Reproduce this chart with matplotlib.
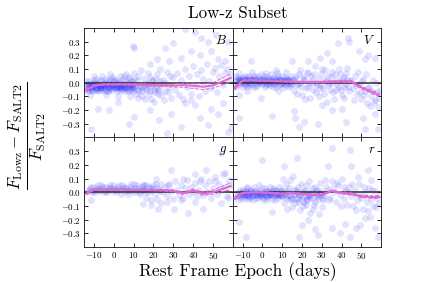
import numpy as np
import matplotlib
matplotlib.use("Agg")
import matplotlib.pyplot as plt

plt.rcParams["font.family"] = "serif"
plt.rcParams["font.serif"] = ["cmr10", "DejaVu Serif"]
plt.rcParams["mathtext.fontset"] = "cm"
plt.rcParams["axes.formatter.use_mathtext"] = True
plt.rcParams["axes.unicode_minus"] = True

# scatter points (epoch, fractional residual)
b_points = [
    (-14, -0.03), (-13, -0.01), (-12, -0.04), (-11, 0.00), (-10, -0.03), (-9, -0.05), (-8, -0.02),
    (-7, 0.01), (-6, -0.03), (-5, -0.04), (-4, -0.01), (-3, -0.03), (-2, 0.02), (-1, -0.02),
    (0, -0.04), (1, -0.01), (2, -0.03), (3, 0.00), (4, -0.05), (5, -0.02), (6, 0.01), (7, -0.03),
    (8, -0.01), (9, -0.04), (10, 0.02),
    (-13.5, -0.05), (-12.5, 0.01), (-11.5, -0.02), (-10.5, -0.06), (-9.5, 0.00), (-8.5, -0.03),
    (-7.5, -0.06), (-6.5, 0.02), (-5.5, -0.01), (-4.5, -0.06), (-3.5, 0.01), (-2.5, -0.05),
    (-1.5, -0.03), (-0.5, 0.03), (0.5, -0.02), (1.5, -0.06), (2.5, 0.01), (3.5, -0.03), (4.5, 0.03),
    (5.5, -0.06), (6.5, -0.02), (7.5, 0.04), (8.5, -0.05), (9.5, -0.01),
    (-14, 0.01), (-12, -0.02), (-10, 0.02), (-8, -0.04), (-6, -0.05), (-4, 0.03), (-2, -0.01),
    (0, 0.01), (2, -0.04), (4, -0.02), (6, -0.04), (8, 0.03), (10, -0.03), (-13, -0.06), (-11, -0.03),
    (-9, 0.03), (-7, -0.02), (-5, 0.00), (-3, -0.06), (-1, 0.04), (1, 0.02), (3, -0.05), (5, 0.05),
    (7, -0.06), (9, 0.01),
    (-13, -0.02), (-11, -0.05), (-9, -0.01), (-7, -0.04), (-5, -0.02), (-3, -0.01), (-1, -0.05),
    (1, -0.03), (3, -0.02), (5, -0.03), (7, 0.00), (9, -0.02), (-12.5, -0.03), (-10.5, -0.01),
    (-8.5, -0.05), (-6.5, -0.03), (-4.5, -0.02), (-2.5, -0.03), (-0.5, -0.02), (1.5, 0.00),
    (3.5, -0.04), (5.5, -0.01), (7.5, -0.02), (9.5, -0.06),
    (-13.8, -0.04), (-12.8, -0.02), (-11.8, -0.05), (-10.8, -0.03), (-9.8, -0.02), (-8.8, -0.04),
    (-7.8, -0.01), (-6.8, -0.04), (-5.8, -0.02), (-4.8, -0.03), (-3.8, -0.05), (-2.8, -0.02),
    (-1.8, -0.04), (-0.8, -0.01), (0.2, -0.03), (1.2, -0.04), (2.2, -0.02), (3.2, -0.03),
    (4.2, -0.01), (5.2, -0.04), (6.2, -0.03), (7.2, -0.05), (8.2, -0.02), (9.2, -0.03),
    (10.2, -0.04), (11.2, -0.02), (12.2, -0.05), (13.2, -0.03), (14.2, -0.06), (15.2, -0.02),
    (16.2, -0.04), (17.2, -0.01), (18.2, -0.06), (19.2, 0.02), (20.2, -0.05), (21.2, -0.03),
    (22.2, -0.08), (23.2, 0.01),
    (-6, 0.05), (-2, 0.06), (3, 0.05), (6, 0.06), (10, 0.07), (-10, 0.05), (-12, -0.09), (-4, -0.09),
    (2, -0.10), (8, -0.10), (12, -0.11),
    (11, -0.08), (12, 0.05), (13, -0.02), (14, -0.10), (15, 0.03), (16, -0.05), (17, 0.07),
    (18, -0.03), (19, -0.12), (20, 0.01), (21, -0.07), (22, 0.06), (23, -0.04), (24, -0.09),
    (25, 0.02), (26, -0.06), (27, 0.08), (28, -0.03), (29, -0.11), (30, 0.04), (11.5, 0.02),
    (12.5, -0.06), (13.5, 0.09), (14.5, -0.03), (15.5, -0.12), (16.5, 0.00), (17.5, -0.08),
    (18.5, 0.04), (19.5, -0.02), (20.5, -0.14), (21.5, 0.03), (22.5, -0.05), (23.5, 0.10),
    (24.5, -0.01), (25.5, -0.13), (26.5, 0.00), (27.5, -0.07), (28.5, 0.05),
    (31, -0.05), (32, 0.07), (33, -0.09), (34, 0.02), (35, -0.12), (36, 0.10), (37, -0.03),
    (38, 0.05), (39, -0.08), (40, 0.12), (41, -0.02), (42, 0.06), (43, -0.10), (44, 0.09),
    (45, 0.03), (46, -0.06), (47, 0.14), (48, 0.01), (49, -0.04), (50, 0.08), (51, 0.11),
    (52, -0.07), (53, 0.05), (54, 0.13), (55, -0.02), (56, 0.07), (57, 0.10), (58, 0.02), (59, 0.06),
    (10.4, 0.25), (35.7, 0.39), (40.8, 0.37), (44, 0.33), (47.5, 0.30), (51.8, 0.35), (57.7, 0.30),
    (29.8, 0.29), (25.6, 0.25), (39, 0.23), (43.3, 0.20), (49, 0.23), (52.6, 0.17), (56, 0.155),
    (34, 0.18), (28, 0.155), (22, 0.17), (18, 0.14), (9.5, 0.265), (-2.3, -0.20), (-8.2, -0.19),
    (7.8, -0.30), (10.4, -0.25), (18, -0.20), (23, -0.27), (29, -0.225), (34, -0.32), (40.8, -0.16),
    (43.3, -0.26), (47.5, -0.31), (52.6, -0.225), (57.7, -0.36), (-11.6, -0.335), (1.9, -0.14),
    (35.7, -0.15), (39, -0.127), (27, -0.37), (49.2, -0.19), (55, -0.15), (59.4, -0.33),
]

v_points = [
    (-14, -0.02), (-13, 0.02), (-12, -0.01), (-11, 0.03), (-10, 0.00), (-9, -0.02), (-8, 0.01),
    (-7, 0.04), (-6, 0.00), (-5, -0.01), (-4, 0.02), (-3, 0.00), (-2, 0.05), (-1, 0.01), (0, -0.01),
    (1, 0.02), (2, 0.00), (3, 0.03), (4, -0.02), (5, 0.01), (6, 0.04), (7, 0.00), (8, 0.02),
    (9, -0.01), (10, 0.05), (11, 0.01), (12, -0.02), (13, 0.03), (14, 0.00), (15, 0.02),
    (-13.5, -0.03), (-12.5, 0.04), (-11.5, 0.01), (-10.5, -0.03), (-9.5, 0.03), (-8.5, 0.00),
    (-7.5, -0.03), (-6.5, 0.05), (-5.5, 0.02), (-4.5, -0.03), (-3.5, 0.04), (-2.5, -0.02),
    (-1.5, 0.00), (-0.5, 0.06), (0.5, 0.01), (1.5, -0.03), (2.5, 0.04), (3.5, 0.00), (4.5, 0.06),
    (5.5, -0.03), (6.5, 0.01), (7.5, 0.07), (8.5, -0.02), (9.5, 0.02), (10.5, -0.04), (11.5, 0.04),
    (12.5, 0.00), (13.5, -0.03), (14.5, 0.05),
    (-12, 0.02), (-10, 0.04), (-8, -0.01), (-6, -0.02), (-4, 0.05), (-2, 0.01), (0, 0.03),
    (2, -0.02), (4, 0.01), (6, -0.01), (8, 0.05), (10, 0.00), (12, 0.03), (14, -0.02), (-11, 0.00),
    (-9, 0.05), (-7, 0.02), (-5, 0.03), (-3, -0.03), (-1, 0.03), (1, 0.05), (3, -0.01), (5, 0.03),
    (7, -0.03), (9, 0.03), (11, -0.01), (13, 0.01),
    (-13.2, 0.01), (-12.2, 0.03), (-11.2, 0.02), (-10.2, 0.01), (-9.2, 0.03), (-8.2, 0.02),
    (-7.2, 0.01), (-6.2, 0.03), (-5.2, 0.01), (-4.2, 0.02), (-3.2, 0.03), (-2.2, 0.01),
    (-1.2, 0.02), (-0.2, 0.00), (0.8, 0.03), (1.8, 0.01), (2.8, 0.02), (3.8, 0.03), (4.8, 0.00),
    (5.8, 0.02), (6.8, 0.03), (7.8, 0.01), (8.8, 0.02), (9.8, 0.00), (10.8, 0.02), (11.8, 0.01),
    (12.8, 0.03), (13.8, 0.01), (14.8, -0.01), (15.8, 0.02), (17, -0.02), (19, 0.00), (21, 0.03),
    (23, -0.03), (25, 0.02), (27, 0.00), (29, -0.04), (31, 0.02), (33, -0.02), (35, 0.00),
    (37, -0.05), (39, 0.01), (41, -0.03), (43, 0.02),
    (-12, 0.07), (-5, 0.08), (2, 0.07), (8, -0.06), (-8, -0.06), (12, 0.08), (-14, 0.05),
    (16, -0.06), (17, 0.05), (18, -0.01), (19, 0.09), (20, -0.09), (21, 0.02), (22, -0.04),
    (23, 0.07), (24, -0.11), (25, 0.00), (26, 0.06), (27, -0.07), (28, 0.03), (29, -0.02),
    (30, 0.10), (31, -0.08), (32, 0.01), (33, 0.05), (34, -0.05), (35, 0.08), (36, -0.12),
    (37, 0.02), (38, -0.03), (39, 0.06), (40, -0.09), (41, 0.04), (42, -0.01), (43, 0.11),
    (44, -0.06), (45, 0.02), (16.5, 0.03), (17.5, -0.08), (18.5, 0.06), (19.5, -0.03), (20.5, 0.04),
    (21.5, -0.12), (22.5, 0.08), (23.5, 0.00), (24.5, 0.05), (25.5, -0.05), (26.5, 0.12),
    (27.5, -0.02), (28.5, -0.10), (29.5, 0.06), (30.5, -0.04), (31.5, 0.09), (32.5, -0.14),
    (33.5, 0.00), (34.5, 0.04), (35.5, -0.07), (36.5, 0.06), (37.5, -0.01), (38.5, 0.10),
    (39.5, -0.05), (40.5, 0.03), (41.5, -0.11), (42.5, 0.07), (43.5, -0.03), (44.5, 0.01),
    (46, -0.04), (47, 0.05), (48, -0.08), (49, -0.01), (50, -0.12), (51, 0.03), (52, -0.06),
    (53, -0.15), (54, -0.03), (55, -0.10), (56, 0.02), (57, -0.13), (58, -0.07), (59, -0.11),
    (46.5, -0.13), (47.5, -0.02), (48.5, 0.08), (49.5, -0.07), (50.5, 0.01), (51.5, -0.09),
    (52.5, 0.06), (53.5, -0.04), (54.5, -0.17), (55.5, -0.06), (56.5, -0.14), (57.5, 0.00),
    (58.5, -0.18), (59.5, -0.05),
    (43.3, 0.33), (44, 0.30), (38.3, 0.29), (49, 0.23), (51.7, 0.17), (53.3, 0.20), (56.7, 0.18),
    (-5.8, 0.155), (-11.7, -0.26), (5, -0.24), (15.8, -0.21), (16.7, -0.26), (18.3, -0.32),
    (20.8, -0.29), (28.3, -0.30), (30, -0.16), (35, -0.20), (40, -0.19), (42.5, -0.29),
    (50.8, -0.26), (56.7, -0.225), (58.3, -0.335), (15, 0.155), (23.3, 0.155), (29.2, 0.18),
    (32.5, 0.22), (35, 0.155), (6.7, 0.094), (51.7, -0.335), (-11.7, -0.09), (-0.8, -0.115),
]

g_points = [
    (-13, 0.01), (-12, 0.03), (-11, 0.00), (-10, 0.04), (-9, 0.02), (-8, 0.05), (-7, 0.01),
    (-6, 0.03), (-5, 0.00), (-4, 0.04), (-3, 0.02), (-2, 0.05), (-1, 0.01), (0, 0.03), (1, 0.00),
    (2, 0.04), (3, 0.02), (4, 0.05), (5, 0.01), (6, 0.03), (7, -0.01), (8, 0.04), (9, 0.02),
    (10, 0.06), (11, 0.01), (12, 0.03), (13, -0.01), (14, 0.04), (15, 0.02), (16, 0.05), (17, 0.00),
    (18, 0.03), (19, 0.01), (20, 0.05), (21, -0.01), (22, 0.03), (23, 0.02), (24, 0.06), (25, 0.00),
    (-12.5, 0.02), (-10.5, 0.01), (-8.5, 0.03), (-6.5, 0.05), (-4.5, 0.01), (-2.5, 0.03),
    (-0.5, 0.05), (1.5, 0.02), (3.5, -0.01), (5.5, 0.04), (7.5, 0.02), (9.5, 0.00), (11.5, 0.05),
    (13.5, 0.02), (15.5, 0.00), (17.5, 0.04), (19.5, 0.03), (21.5, 0.06), (23.5, 0.01),
    (-11.5, 0.04), (-9.5, 0.00), (-7.5, 0.02), (-5.5, 0.04), (-3.5, 0.00), (-1.5, 0.03),
    (0.5, 0.02), (2.5, 0.05), (4.5, 0.03), (6.5, 0.01), (8.5, 0.06), (10.5, 0.03), (12.5, 0.00),
    (14.5, 0.05),
    (16, -0.04), (19, -0.06), (22, -0.05), (24, -0.08), (27, -0.07),
    (26, 0.04), (27, -0.03), (28, 0.06), (29, 0.01), (30, -0.05), (31, 0.08), (32, 0.02),
    (33, -0.02), (34, 0.05), (35, -0.04), (36, 0.03), (37, 0.09), (38, -0.01), (39, 0.04),
    (40, 0.00), (41, 0.07), (42, -0.03), (43, 0.02), (44, 0.10), (45, -0.02), (46, 0.05),
    (47, 0.00), (48, 0.08), (49, -0.04), (50, 0.03), (51, 0.11), (52, -0.01), (53, 0.06),
    (54, 0.02), (55, 0.13), (56, 0.04), (57, -0.03), (58, 0.09), (59, 0.05),
    (29, 0.16), (35, 0.10), (40.8, 0.13), (46.7, 0.165), (54.3, 0.285), (56, 0.14), (54.3, -0.08),
    (30.6, -0.12), (37.4, -0.15), (45, -0.12), (22.2, -0.12), (18.8, -0.095), (14.6, -0.085),
    (57.7, -0.04), (34, -0.06), (40.8, -0.07), (27.2, 0.055), (21.3, 0.10), (15.4, 0.05),
    (-11.6, -0.06), (50.9, 0.085), (43.3, 0.085),
]

r_points = [
    (-13, -0.03), (-12, 0.00), (-11, -0.04), (-10, 0.02), (-9, -0.02), (-8, 0.03), (-7, -0.05),
    (-6, 0.01), (-5, -0.02), (-4, 0.04), (-3, -0.04), (-2, 0.00), (-1, -0.03), (0, 0.03),
    (1, -0.06), (2, 0.01), (3, -0.02), (4, 0.04), (5, -0.05), (6, -0.01), (7, 0.02), (8, -0.04),
    (9, 0.01), (10, -0.03),
    (-12.5, -0.06), (-11.5, 0.02), (-10.5, -0.01), (-9.5, -0.05), (-8.5, 0.00), (-7.5, 0.04),
    (-6.5, -0.03), (-5.5, 0.02), (-4.5, -0.06), (-3.5, 0.01), (-2.5, -0.02), (-1.5, 0.05),
    (-0.5, -0.01), (0.5, -0.04), (1.5, 0.03), (2.5, -0.05), (3.5, 0.00), (4.5, -0.02), (5.5, 0.03),
    (6.5, -0.06), (7.5, 0.00), (8.5, 0.04), (9.5, -0.02),
    (-11, -0.01), (-9, 0.01), (-7, -0.01), (-5, 0.00), (-3, -0.01), (-1, 0.01), (1, -0.01),
    (3, 0.01), (5, -0.01), (7, -0.02), (9, -0.01), (-10, -0.03), (-8, -0.02), (-6, -0.04),
    (-4, -0.01), (-2, -0.04), (0, -0.01), (2, -0.03), (4, -0.01), (6, 0.02), (8, -0.01), (10, 0.02),
    (-12.2, -0.02), (-11.2, -0.03), (-10.2, 0.00), (-9.2, -0.02), (-8.2, -0.01), (-7.2, -0.03),
    (-6.2, 0.00), (-5.2, -0.03), (-4.2, -0.02), (-3.2, 0.01), (-2.2, -0.02), (-1.2, -0.01),
    (-0.2, -0.03), (0.8, 0.00), (1.8, -0.02), (2.8, -0.03), (3.8, -0.01), (4.8, 0.01),
    (5.8, -0.03), (6.8, -0.01), (7.8, -0.02), (8.8, -0.03), (9.8, 0.00), (10.8, -0.02),
    (11.8, -0.04), (12.8, 0.01), (13.8, -0.02), (14.8, -0.05), (15.8, -0.01), (16.8, 0.02),
    (17.8, -0.04), (18.8, -0.02), (19.8, -0.06), (20.8, 0.01), (21.8, -0.03), (22.8, -0.05),
    (23.8, -0.02), (24.8, 0.00), (25.8, -0.04), (26.8, -0.07), (27.8, 0.02), (28.8, -0.03),
    (29.8, -0.01), (30.8, -0.04),
    (11, -0.08), (12, 0.06), (13, -0.02), (14, 0.09), (15, -0.11), (16, 0.02), (17, -0.05),
    (18, 0.04), (19, -0.13), (20, 0.00), (21, -0.07), (22, 0.05), (23, -0.03), (24, -0.15),
    (25, 0.03), (26, -0.09), (27, 0.01), (28, -0.05), (29, 0.07), (30, -0.11), (31, -0.02),
    (32, 0.04), (10.5, 0.10), (11.5, 0.01), (12.5, -0.12), (13.5, 0.03), (14.5, -0.04),
    (15.5, 0.12), (16.5, -0.08), (17.5, 0.00), (18.5, -0.02), (19.5, 0.06), (20.5, -0.10),
    (21.5, 0.02), (22.5, -0.06), (23.5, 0.08), (24.5, -0.01), (25.5, -0.12), (26.5, 0.04),
    (27.5, -0.03), (28.5, -0.16), (29.5, 0.01), (30.5, -0.06), (31.5, 0.09), (12, -0.03),
    (16, -0.01), (20, -0.03), (24, -0.04), (28, -0.01), (14, -0.06), (18, -0.07), (22, -0.09),
    (33, 0.02), (34, -0.04), (35, 0.08), (36, 0.00), (37, -0.07), (38, 0.05), (39, -0.02),
    (40, 0.10), (41, -0.05), (42, 0.01), (43, -0.09), (44, 0.04), (45, -0.03), (46, -0.10),
    (47, 0.02), (48, -0.06), (49, 0.06), (50, -0.04), (51, -0.12), (52, 0.00), (53, -0.07),
    (54, 0.03), (55, -0.05), (56, -0.10), (57, 0.01), (58, -0.04), (59, -0.08), (33.5, -0.06),
    (35.5, 0.03), (37.5, 0.07), (39.5, -0.10), (41.5, 0.04), (43.5, 0.00), (45.5, 0.06),
    (47.5, -0.13), (49.5, -0.02), (51.5, 0.04), (53.5, -0.14), (55.5, 0.02), (57.5, -0.11),
    (59.5, -0.02),
    (0, 0.236), (17.5, 0.25), (35, 0.32), (44.2, 0.31), (53.3, 0.16), (33.3, 0.19), (10.8, 0.19),
    (-11.7, -0.22), (-8.3, -0.33), (5, -0.145), (18.3, -0.33), (20, -0.24), (23.3, -0.20),
    (26.7, -0.27), (28.3, -0.31), (35, -0.26), (39.2, -0.30), (41.7, -0.23), (44.2, -0.33),
    (47.5, -0.26), (49.2, -0.24), (51.7, -0.19), (54.2, -0.18), (56.7, -0.26), (58.3, -0.33),
    (45, 0.19), (48.3, 0.11), (55, 0.09),
]

# running mean and its uncertainty
mean_epoch = [-14, -10, -5, 0, 5, 10, 15, 20, 25, 30, 35, 40, 45, 50, 55, 59]
b_mean = [-0.055, -0.02, -0.012, -0.012, -0.012, -0.013, -0.015, -0.018, -0.02, -0.022, -0.018, -0.022, -0.03, -0.02, 0.01, 0.035]
b_err = [0.015, 0.006, 0.004, 0.004, 0.004, 0.005, 0.006, 0.007, 0.008, 0.01, 0.015, 0.02, 0.02, 0.02, 0.025, 0.03]
v_mean = [-0.04, 0.015, 0.02, 0.015, 0.012, 0.01, 0.008, 0.005, 0.004, 0.005, 0.008, 0.01, 0.008, -0.035, -0.065, -0.09]
v_err = [0.012, 0.005, 0.004, 0.004, 0.004, 0.004, 0.005, 0.005, 0.005, 0.006, 0.006, 0.007, 0.008, 0.01, 0.01, 0.012]
g_mean = [-0.01, 0.02, 0.02, 0.02, 0.02, 0.018, 0.018, 0.016, 0.015, 0.01, -0.008, 0.015, -0.01, 0.0, 0.025, 0.045]
g_err = [0.01, 0.004, 0.004, 0.004, 0.004, 0.004, 0.005, 0.005, 0.006, 0.008, 0.008, 0.01, 0.012, 0.015, 0.02, 0.025]
r_mean = [-0.045, -0.005, 0.0, 0.0, -0.005, -0.01, -0.005, -0.012, -0.018, -0.02, 0.01, -0.005, -0.012, -0.03, -0.035, -0.035]
r_err = [0.012, 0.005, 0.004, 0.004, 0.004, 0.004, 0.005, 0.005, 0.005, 0.006, 0.006, 0.007, 0.008, 0.008, 0.01, 0.01]

band_names = ["B", "V", "g", "r"]
panels = [(b_points, b_mean, b_err), (v_points, v_mean, v_err),
          (g_points, g_mean, g_err), (r_points, r_mean, r_err)]

fig, axes = plt.subplots(2, 2, sharex=True, sharey=True,
                         figsize=(423 / 72, 282 / 72), dpi=72)
fig.subplots_adjust(left=0.199, right=0.901, top=0.901, bottom=0.124,
                    wspace=0, hspace=0)

for ax, name, (pts, mean, err) in zip(axes.flat, band_names, panels):
    pts = np.array(pts)
    mean = np.array(mean)
    err = np.array(err)
    ax.scatter(pts[:, 0], pts[:, 1], s=40, c="blue", alpha=0.11,
               edgecolors="blue", linewidths=0.3, zorder=1)
    ax.axhline(0, color="#333333", lw=2, alpha=0.8, zorder=2)
    ax.plot(mean_epoch, mean, color="#dd6ad4", lw=2, zorder=3)
    ax.plot(mean_epoch, mean + err, color="#dd6ad4", lw=1, ls="--", zorder=3)
    ax.plot(mean_epoch, mean - err, color="#dd6ad4", lw=1, ls="--", zorder=3)
    ax.text(0.96, 0.94, "$%s$" % name, transform=ax.transAxes,
            ha="right", va="top", fontsize=13)
    ax.set_xlim(-15, 60)
    ax.set_ylim(-0.4, 0.4)
    ax.set_xticks([-10, 0, 10, 20, 30, 40, 50])
    ax.set_yticks([-0.3, -0.2, -0.1, 0.0, 0.1, 0.2, 0.3])
    ax.tick_params(direction="in", top=True, right=True, length=4,
                   labelsize=9, pad=3)
    ax.yaxis.set_major_formatter(matplotlib.ticker.FormatStrFormatter("$%.1f$"))

fig.text(0.562, 0.952, "Low-z Subset", ha="center", va="center", fontsize=17)
fig.text(0.562, 0.022, "Rest Frame Epoch (days)", ha="center", va="baseline", fontsize=17.5)
fig.text(0.065, 0.52,
         r"$\frac{F_{\rm Lowz} - F_{\rm SALT2}}{F_{\rm SALT2}}$",
         ha="center", va="center", rotation=90, fontsize=24)

fig.savefig("out.png", dpi=72)
